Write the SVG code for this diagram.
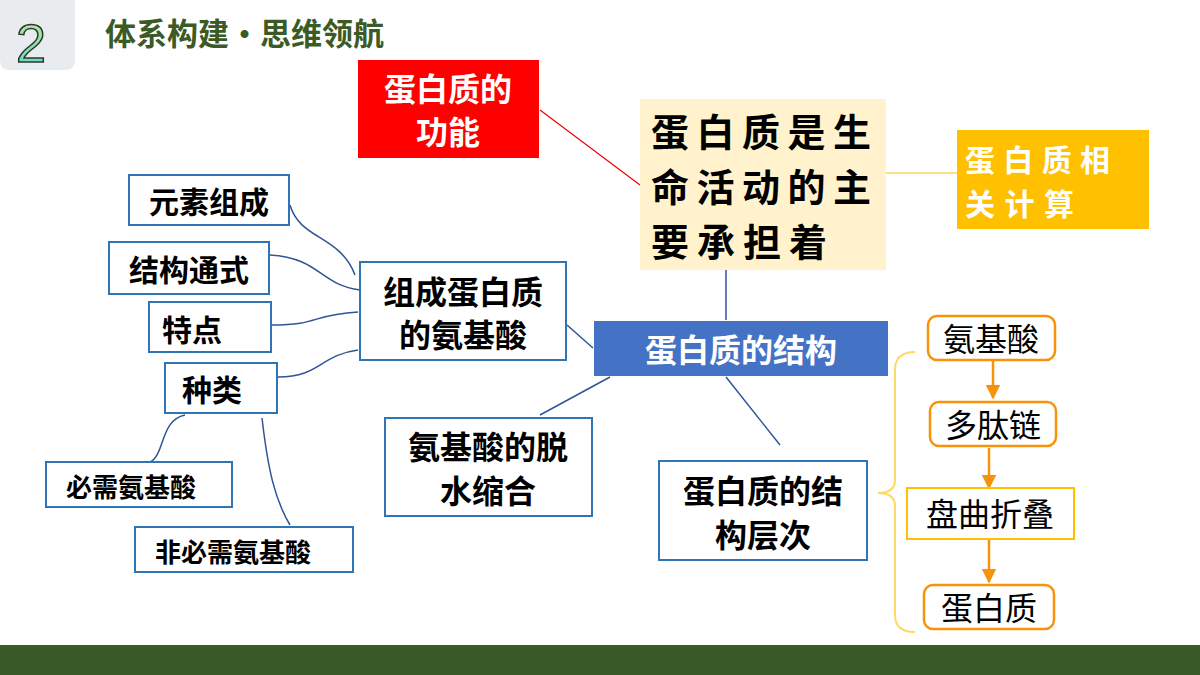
<svg xmlns="http://www.w3.org/2000/svg" width="1200" height="675" viewBox="0 0 1200 675">
<defs>
<style>
text{font-family:"Noto Sans CJK SC","Noto Sans",sans-serif;font-weight:bold;fill:#000}
.bx{fill:#fff;stroke:#2e75b6;stroke-width:2}
.ob{fill:#fff;stroke:#f7930b;stroke-width:2.5}
.cl{fill:none;stroke:#2f5597;stroke-width:1.5}
</style>
<linearGradient id="g" x1="0" y1="0" x2="0" y2="1"><stop offset="0" stop-color="#b8f28a"/><stop offset="1" stop-color="#5fd6c8"/></linearGradient>
<marker id="a" viewBox="0 0 10 10" refX="9" refY="5" markerWidth="6" markerHeight="6" orient="auto"><path d="M0,0L10,5L0,10z" fill="#f7930b"/></marker>
</defs>
<rect width="1200" height="675" fill="#fff"/>
<rect x="0" y="645" width="1200" height="30" fill="#3a5a28"/>
<path d="M0,0H75V60Q75,70 65,70H10Q0,70 0,60Z" fill="#e8ecef"/>
<text x="31" y="62" font-size="54" font-family="Liberation Sans" style="fill:url(#g);stroke:#333;stroke-width:1.5;font-family:'Liberation Sans',sans-serif;font-weight:normal" text-anchor="middle">2</text>
<text x="105" y="45" font-size="31" style="fill:#3b5a25">体系构建•思维领航</text>
<g id="connectors">
<line x1="540" y1="110" x2="640" y2="185" stroke="#e00" stroke-width="1.2"/>
<line x1="885" y1="173" x2="957" y2="173" stroke="#ffc000" stroke-width="1.2"/>
<line x1="726" y1="270" x2="726" y2="320" stroke="#2f5597" stroke-width="1.5"/>
<line x1="567" y1="325" x2="593" y2="348" stroke="#2f5597" stroke-width="1.5"/>
<line x1="610" y1="377" x2="540" y2="415" stroke="#2f5597" stroke-width="1.5"/>
<line x1="726" y1="377" x2="780" y2="445" stroke="#2f5597" stroke-width="1.5"/>
<path class="cl" d="M290,205C300,240 340,235 355,275"/>
<path class="cl" d="M270,255C320,258 320,285 360,290"/>
<path class="cl" d="M272,325C320,325 310,315 358,312"/>
<path class="cl" d="M278,377C320,377 320,355 358,350"/>
<path class="cl" d="M185,415C160,420 165,455 150,462"/>
<path class="cl" d="M262,418C268,470 275,500 290,525"/>
<path d="M915,352Q895,352 895,370V480Q895,493 878,493Q895,493 895,506V615Q895,632 915,632" fill="none" stroke="#ffd966" stroke-width="2"/>
<g stroke="#f7930b" stroke-width="2.5" marker-end="url(#a)">
<line x1="993" y1="360" x2="993" y2="398"/>
<line x1="989" y1="448" x2="989" y2="488"/>
<line x1="989" y1="540" x2="989" y2="582"/>
</g>
</g>
<g id="n1"><rect x="358" y="60" width="181" height="98" fill="#ff0000"/><text x="448" y="101" font-size="32" text-anchor="middle" style="fill:#fff">蛋白质的</text><text x="448" y="144" font-size="32" text-anchor="middle" style="fill:#fff">功能</text></g>
<g id="n2"><rect x="640" y="99" width="246" height="171" fill="#fff2cc"/><text x="651" y="146" font-size="38" textLength="220">蛋白质是生</text><text x="651" y="201" font-size="38" textLength="220">命活动的主</text><text x="651" y="256" font-size="38" textLength="176">要承担着</text></g>
<g id="n3"><rect x="957" y="130" width="192" height="99" fill="#ffc000"/><text x="965" y="171" font-size="30" textLength="145" style="fill:#fff">蛋白质相</text><text x="965" y="215" font-size="30" textLength="109" style="fill:#fff">关计算</text></g>
<g id="n4"><rect x="594" y="321" width="294" height="55" fill="#4472c4"/><text x="741" y="362" font-size="32" text-anchor="middle" style="fill:#fff">蛋白质的结构</text></g>
<g id="n5"><rect class="bx" x="360" y="262" width="206" height="98"/><text x="463" y="304" font-size="32" text-anchor="middle">组成蛋白质</text><text x="463" y="347" font-size="32" text-anchor="middle">的氨基酸</text></g>
<g id="n6"><rect class="bx" x="129" y="175" width="160" height="50"/><text x="209" y="213" font-size="30" text-anchor="middle">元素组成</text></g>
<g id="n7"><rect class="bx" x="109" y="242" width="160" height="52"/><text x="189" y="281" font-size="30" text-anchor="middle">结构通式</text></g>
<g id="n8"><rect class="bx" x="149" y="302" width="122" height="50"/><text x="192" y="341" font-size="30" text-anchor="middle">特点</text></g>
<g id="n9"><rect class="bx" x="165" y="363" width="112" height="50"/><text x="212" y="401" font-size="30" text-anchor="middle">种类</text></g>
<g id="n10"><rect class="bx" x="46" y="462" width="186" height="45"/><text x="131" y="497" font-size="26" text-anchor="middle">必需氨基酸</text></g>
<g id="n11"><rect class="bx" x="135" y="527" width="218" height="45"/><text x="233" y="562" font-size="26" text-anchor="middle">非必需氨基酸</text></g>
<g id="n12"><rect class="bx" x="385" y="418" width="207" height="98"/><text x="488" y="459" font-size="32" text-anchor="middle">氨基酸的脱</text><text x="488" y="503" font-size="32" text-anchor="middle">水缩合</text></g>
<g id="n13"><rect class="bx" x="659" y="461" width="208" height="99"/><text x="763" y="503" font-size="32" text-anchor="middle">蛋白质的结</text><text x="763" y="547" font-size="32" text-anchor="middle">构层次</text></g>
<g id="n14"><rect class="ob" x="928" y="316" width="127" height="44" rx="9"/><text x="991" y="351" font-size="32" text-anchor="middle" style="font-weight:normal">氨基酸</text></g>
<g id="n15"><rect class="ob" x="930" y="402" width="126" height="44" rx="9"/><text x="993" y="437" font-size="32" text-anchor="middle" style="font-weight:normal">多肽链</text></g>
<g id="n16"><rect x="907" y="488" width="167" height="51" fill="#fff" stroke="#ffc000" stroke-width="2"/><text x="990" y="526" font-size="32" text-anchor="middle" style="font-weight:normal">盘曲折叠</text></g>
<g id="n17"><rect class="ob" x="924" y="585" width="130" height="44" rx="9"/><text x="989" y="620" font-size="32" text-anchor="middle" style="font-weight:normal">蛋白质</text></g>
</svg>
